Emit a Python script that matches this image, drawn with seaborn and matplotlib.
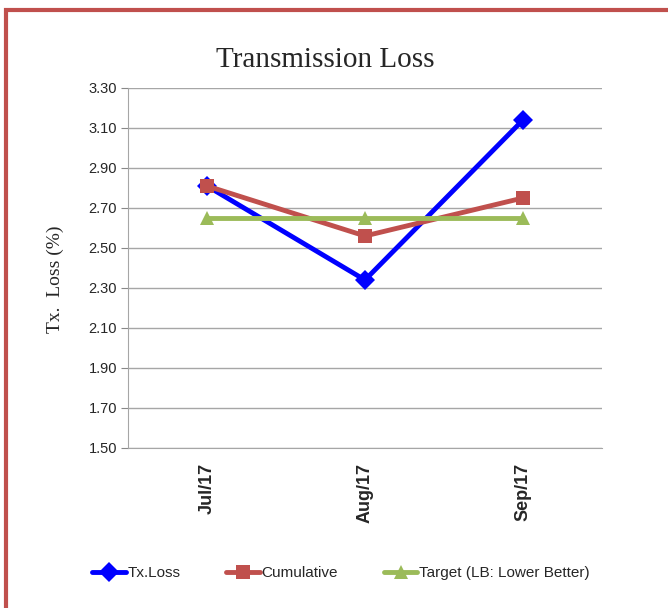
import matplotlib
matplotlib.use("Agg")
import matplotlib.pyplot as plt
import pandas as pd
import seaborn as sns
from matplotlib.patches import Rectangle

months = ["Jul/17", "Aug/17", "Sep/17"]
tx_loss = [2.81, 2.34, 3.14]
cumulative = [2.81, 2.56, 2.75]
target = [2.65, 2.65, 2.65]
series_names = ["Tx.Loss", "Cumulative", "Target (LB: Lower Better)"]
yticks = [1.50, 1.70, 1.90, 2.10, 2.30, 2.50, 2.70, 2.90, 3.10, 3.30]

df = pd.DataFrame({
    "Month": months * 3,
    "Value": tx_loss + cumulative + target,
    "Series": [series_names[0]] * 3 + [series_names[1]] * 3 + [series_names[2]] * 3,
})

sns.set_style("white")
sans = ["Liberation Sans", "DejaVu Sans"]
serif = ["Liberation Serif", "DejaVu Serif"]

fig = plt.figure(figsize=(6.68, 6.08), dpi=100)
ax = fig.add_axes([0.1916, 0.2632, 0.7096, 0.5921])

palette = {series_names[0]: "#0000FF", series_names[1]: "#C0504D", series_names[2]: "#9BBB59"}
markers = {series_names[0]: "D", series_names[1]: "s", series_names[2]: "^"}

sns.lineplot(data=df, x="Month", y="Value", hue="Series", style="Series",
             palette=palette, markers=markers, dashes=False, markersize=10,
             markeredgewidth=0, linewidth=3.5, ax=ax, sort=False)

ax.set_xlim(-0.5, 2.5)
ax.set_ylim(1.50, 3.30)
ax.set_yticks(yticks)
ax.set_yticklabels([f"{v:.2f}" for v in yticks], family=sans, fontsize=10.5)
ax.set_xticks(range(len(months)))
ax.set_xticklabels(months, rotation=90, fontsize=13, fontweight="bold", family=sans)
ax.set_xticks([-0.5, 0.5, 1.5, 2.5], minor=True)
ax.tick_params(axis="x", which="major", length=0, pad=11)
ax.tick_params(axis="x", which="minor", length=5, color="#888888")
ax.tick_params(axis="y", length=5, color="#888888", left=True, pad=3)
ax.yaxis.grid(True, color="#A6A6A6", linewidth=1)
ax.set_axisbelow(True)
for side in ["top", "right"]:
    ax.spines[side].set_visible(False)
for side in ["left", "bottom"]:
    ax.spines[side].set_color("#A6A6A6")
ax.set_xlabel("")
ax.set_ylabel("Tx.  Loss (%)", family=serif, fontsize=14)
ax.yaxis.set_label_coords(-0.135, 0.47)

fig.text(325 / 668, 1 - 60 / 608, "Transmission Loss", family=serif, fontsize=21,
         ha="center", va="center")

sns.move_legend(ax, "center", bbox_to_anchor=(341 / 668, 1 - 573 / 608),
                bbox_transform=fig.transFigure, ncol=3, frameon=False, title=None,
                prop={"family": sans, "size": 11}, handlelength=2.2,
                handletextpad=0.1, columnspacing=3.0)

fig.patches.append(Rectangle((6 / 668, -0.1), 1.2, 1 - 10 / 608 + 0.1, transform=fig.transFigure,
                             fill=False, edgecolor="#C0504D", linewidth=3, figure=fig))

fig.savefig("out.png", dpi=100)
